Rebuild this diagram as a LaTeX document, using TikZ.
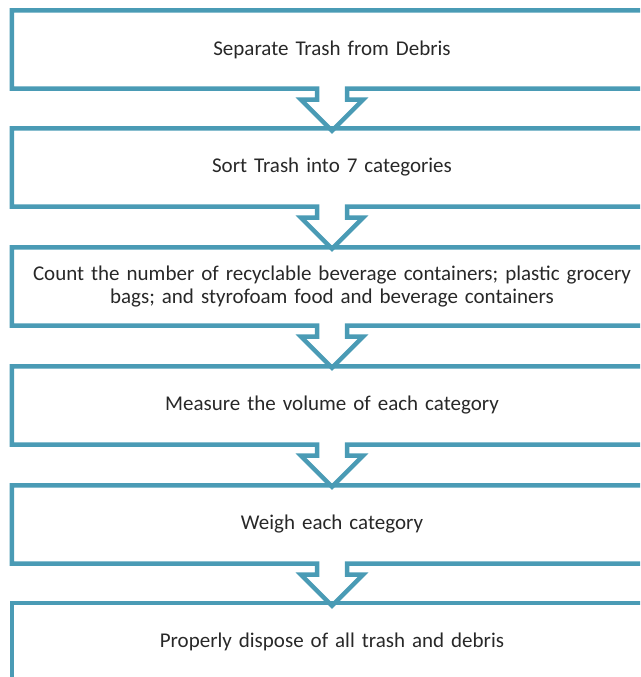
\documentclass[tikz,border=0pt]{standalone}
\usepackage{fontspec}
\setmainfont[WordSpace=0.75]{Carlito}
\usetikzlibrary{calc}
\definecolor{flowblue}{RGB}{74,155,181}
\definecolor{flowtext}{RGB}{40,40,40}
\begin{document}
\begin{tikzpicture}[x=1pt,y=-1pt,
  stepbox/.style={minimum width=640pt, minimum height=78pt, inner sep=0pt, align=center, text width=636pt,
    font=\fontsize{21}{23}\selectfont, text=flowtext},
  outline/.style={draw=flowblue, line width=4.5pt, line join=miter}]
\useasboundingbox (0,0) rectangle (640,677);
\clip (0,0) rectangle (640,677);
\node[stepbox] (s1) at (332,49.5) {Separate Trash from Debris};
\node[stepbox] (s2) at (332,167.5) {Sort Trash into 7 categories};
\node[stepbox] (s3) at (332,286.5) {Count the number of recyclable beverage containers; plastic grocery\\bags; and styrofoam food and beverage containers};
\node[stepbox] (s4) at (332,405.5) {Measure the volume of each category};
\node[stepbox] (s5) at (332,524.5) {Weigh each category};
\node[stepbox] (s6) at (332,642) {Properly dispose of all trash and debris};
\foreach \i in {1,...,5}{
  \draw[outline] (s\i.north west) -- (s\i.north east) -- (s\i.south east)
    -- ($(s\i.south)+(15,0)$) -- ++(0,11) -- ++(16,0) -- ($(s\i.south)+(0,42)$)
    -- ($(s\i.south)+(-31,11)$) -- ++(16,0) -- ($(s\i.south)+(-15,0)$)
    -- (s\i.south west) -- cycle;
}
\draw[outline] (s6.north west) rectangle (s6.south east);
\end{tikzpicture}
\end{document}
